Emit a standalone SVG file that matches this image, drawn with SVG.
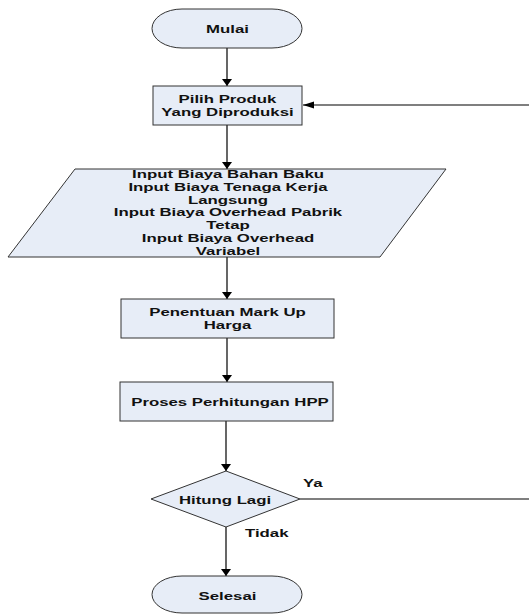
<svg xmlns="http://www.w3.org/2000/svg" width="529" height="615" viewBox="0 0 529 615">
  <defs>
    <style>
      .shape { fill: #e7edf7; stroke: #333333; stroke-width: 1; }
      .conn { fill: none; stroke: #000000; stroke-width: 1.2; }
      .lbl { font-family: "Liberation Sans", Arial, sans-serif; font-size: 11.5px; font-weight: bold; fill: #111111; text-anchor: middle; }
      .note { font-family: "Liberation Sans", Arial, sans-serif; font-size: 11.5px; font-weight: bold; fill: #111111; }
    </style>
    <!-- vertical arrowhead: short and wide -->
    <marker id="head-v" markerUnits="userSpaceOnUse" markerWidth="8" markerHeight="12" viewBox="0 -6 8 12" refX="7" refY="0" orient="auto">
      <path d="M0,-5 L7,0 L0,5 Z" fill="#000"/>
    </marker>
    <!-- horizontal arrowhead: long and narrow -->
    <marker id="head-h" markerUnits="userSpaceOnUse" markerWidth="12" markerHeight="8" viewBox="0 -4 12 8" refX="11" refY="0" orient="auto">
      <path d="M0,-3.5 L11,0 L0,3.5 Z" fill="#000"/>
    </marker>
  </defs>

  <rect width="529" height="615" fill="#ffffff"/>

  <g id="connectors">
    <line class="conn" x1="227" y1="48" x2="227" y2="86" marker-end="url(#head-v)"/>
    <line class="conn" x1="227" y1="125" x2="227" y2="169" marker-end="url(#head-v)"/>
    <line class="conn" x1="227" y1="257" x2="227" y2="299" marker-end="url(#head-v)"/>
    <line class="conn" x1="227" y1="338" x2="227" y2="382" marker-end="url(#head-v)"/>
    <line class="conn" x1="226" y1="421" x2="226" y2="471" marker-end="url(#head-v)"/>
    <line class="conn" x1="226" y1="527" x2="226" y2="576" marker-end="url(#head-v)"/>
    <!-- loop back: Ya branch leaves to the right, re-enters at Pilih Produk -->
    <line class="conn" x1="300" y1="499" x2="529" y2="499"/>
    <line class="conn" x1="529" y1="105" x2="303" y2="105" marker-end="url(#head-h)"/>
    <text class="note" transform="translate(303,487) scale(1.46,1)">Ya</text>
    <text class="note" transform="translate(245,537) scale(1.46,1)">Tidak</text>
  </g>

  <g id="mulai">
    <rect class="shape" x="152" y="9" width="150" height="39" rx="30" ry="19.5"/>
    <text class="lbl" transform="translate(227.5,32.5) scale(1.46,1)">Mulai</text>
  </g>

  <g id="pilih-produk">
    <rect class="shape" x="153" y="86" width="149" height="39"/>
    <text class="lbl" transform="translate(227.5,102.5) scale(1.46,1)">Pilih Produk</text>
    <text class="lbl" transform="translate(227.5,115.5) scale(1.46,1)">Yang Diproduksi</text>
  </g>

  <g id="input-biaya">
    <polygon class="shape" points="75,169 446,169 380,257 8,257"/>
    <text class="lbl" transform="translate(228,178) scale(1.46,1)">Input Biaya Bahan Baku</text>
    <text class="lbl" transform="translate(228,190.8) scale(1.46,1)">Input Biaya Tenaga Kerja</text>
    <text class="lbl" transform="translate(228,203.6) scale(1.46,1)">Langsung</text>
    <text class="lbl" transform="translate(228,216.4) scale(1.46,1)">Input Biaya Overhead Pabrik</text>
    <text class="lbl" transform="translate(228,229.2) scale(1.46,1)">Tetap</text>
    <text class="lbl" transform="translate(228,242) scale(1.46,1)">Input Biaya Overhead</text>
    <text class="lbl" transform="translate(228,254.8) scale(1.46,1)">Variabel</text>
  </g>

  <g id="mark-up">
    <rect class="shape" x="121" y="299" width="213" height="39"/>
    <text class="lbl" transform="translate(227.5,316) scale(1.46,1)">Penentuan Mark Up</text>
    <text class="lbl" transform="translate(227.5,329) scale(1.46,1)">Harga</text>
  </g>

  <g id="proses-hpp">
    <rect class="shape" x="120" y="382" width="213" height="39"/>
    <text class="lbl" transform="translate(230,406) scale(1.46,1)">Proses Perhitungan HPP</text>
  </g>

  <g id="hitung-lagi">
    <polygon class="shape" points="226,471 300,499 226,527 151,499"/>
    <text class="lbl" transform="translate(225,503.5) scale(1.46,1)">Hitung Lagi</text>
  </g>

  <g id="selesai">
    <rect class="shape" x="152" y="576" width="150" height="37" rx="30" ry="18.5"/>
    <text class="lbl" transform="translate(227.5,600) scale(1.46,1)">Selesai</text>
  </g>
</svg>
